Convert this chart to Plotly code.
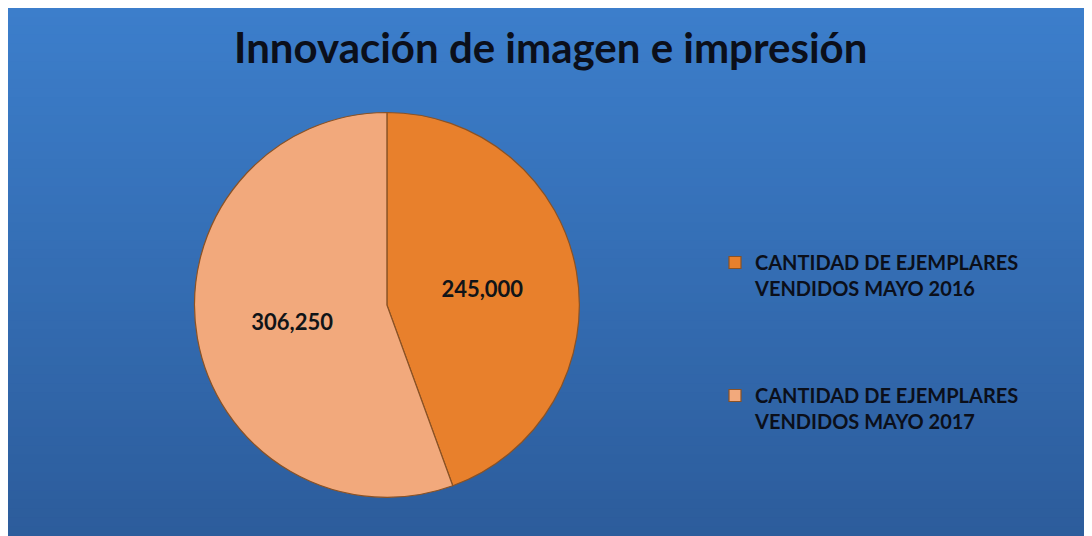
import plotly.graph_objects as go

labels = ["CANTIDAD DE EJEMPLARES<br>VENDIDOS MAYO 2016",
          "CANTIDAD DE EJEMPLARES<br>VENDIDOS MAYO 2017"]
values = [245000, 306250]
slice_colors = ["#E8802C", "#F2A97C"]
title_text = "Innovación de imagen e impresión"

W, H = 1092, 536

# legend labels padded with blank lines to mimic the wide spacing
legend_labels = [l + "<br> <br> <br>" for l in labels]

fig = go.Figure()
fig.add_trace(go.Pie(
    labels=legend_labels,
    values=values,
    sort=False,
    direction="clockwise",
    rotation=0,
    marker=dict(colors=slice_colors, line=dict(color="#8a5225", width=1.2)),
    texttemplate="%{value:,}",
    textposition="inside",
    insidetextorientation="horizontal",
    textfont=dict(family="Lato", size=22, color="#101418", weight="bold"),
    hovertemplate="%{label}: %{value:,}<extra></extra>",
    domain=dict(x=[0.097, 0.597], y=[0.087, 0.805]),
))

# gradient blue panel built from overlapping horizontal bands
top = (60, 126, 203)
bot = (44, 92, 155)
n = 60
shapes = []
for i in range(n):
    t = i / (n - 1)
    c = tuple(int(round(top[k] + (bot[k] - top[k]) * t)) for k in range(3))
    y1 = 1 - i / n
    shapes.append(dict(type="rect", xref="paper", yref="paper",
                       x0=0, x1=1, y0=0, y1=y1,
                       fillcolor="rgb(%d,%d,%d)" % c, line=dict(width=0),
                       layer="below"))

fig.update_layout(
    width=W, height=H,
    margin=dict(l=0, r=0, t=0, b=0),
    paper_bgcolor="rgb(44,92,155)",
    plot_bgcolor="rgb(44,92,155)",
    shapes=shapes,
    title=dict(text=title_text, x=0.497, xanchor="center", y=1 - 40 / H,
               yanchor="middle",
               font=dict(family="Lato", size=42, color="#0b0f1a", weight="bold")),
    legend=dict(x=707 / W, y=1 - 235 / H, xanchor="left", yanchor="top",
                valign="top",
                font=dict(family="Lato", size=20, color="#0b0f1a", weight="bold"),
                bgcolor="rgba(0,0,0,0)", itemwidth=30),
    showlegend=True,
)

fig.write_html("out.html")
